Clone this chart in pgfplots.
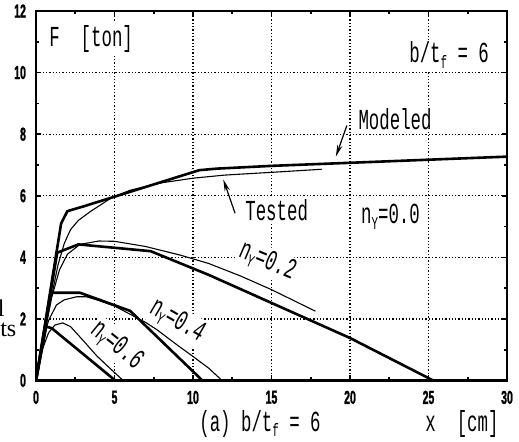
\documentclass[border=0pt]{standalone}
\usepackage{fontspec}
\usepackage{pgfplots}
\pgfplotsset{compat=1.18}
\usetikzlibrary{arrows.meta}
\newfontfamily\labfont[FakeStretch=0.6]{Liberation Mono}
\newfontfamily\tickfont[FakeStretch=0.56, FakeBold=1.2]{Liberation Sans}
\newfontfamily\fragfont{Liberation Serif}
\newcommand{\lab}{\labfont\fontsize{14.5}{16}\selectfont}
\newcommand{\sub}[1]{\raisebox{-0.35ex}{\fontsize{9}{10}\selectfont #1}}
\tikzset{
    lbl/.style={font=\lab, fill=white, inner sep=1pt},
    thin/.style={black, line width=0.55pt},
    fat/.style={black, line width=1.3pt},
}

\begin{document}
\begin{tikzpicture}
\useasboundingbox (-18pt,-30.75pt) rectangle (241.5pt,190.25pt);
\begin{axis}[
    scale only axis, width=235.5pt, height=184.75pt,
    xmin=0, xmax=30, ymin=0, ymax=12,
    xtick={0,5,...,30}, ytick={0,2,...,12},
    minor x tick num=1, minor y tick num=1,
    tick align=inside,
    major tick length=2.5pt, minor tick length=1.5pt,
    every tick/.style={black, line width=0.8pt},
    axis line style={line width=1.2pt},
    grid=major,
    major grid style={black, line width=0.65pt, dash pattern=on 0.65pt off 1pt},
    tick label style={font=\tickfont\bfseries\fontsize{9.4}{10}\selectfont},
    /pgf/number format/assume math mode=true,
    xticklabel style={yshift=-1.6pt},
    yticklabel style={xshift=-1.5pt},
]
% labels first, so that they hide the grid but not the curves
\node[lbl, anchor=west] at (axis cs:0.7,11.1) {F\ \ [ton]};
\node[lbl, anchor=east] at (axis cs:29,10.57) {b/t\sub{f}\ =\ 6};
\node[lbl] at (axis cs:22.87,8.49) {Modeled};
\node[lbl] at (axis cs:15.33,5.54) {Tested};
\node[lbl] at (axis cs:22.58,5.32) {n\sub{Y}=0.0};
\node[lbl, rotate=-23] at (axis cs:14.74,3.86) {n\sub{Y}=0.2};
\node[lbl, rotate=-30] at (axis cs:9.0,1.92) {n\sub{Y}=0.4};
\node[lbl, rotate=-39] at (axis cs:5.14,1.13) {n\sub{Y}=0.6};

% tested (thin)
\addplot[thin] coordinates {
    (0,0) (0.5,1.45) (1.0,2.75) (1.4,3.75) (1.8,4.45) (2.2,4.9) (2.7,5.2)
    (3.5,5.5) (4.8,5.93) (6,6.18) (8,6.42) (10,6.57) (12,6.67) (15,6.76) (18.2,6.86)
};
\addplot[thin] coordinates {
    (0,0) (0.5,1.4) (1.0,2.7) (1.5,3.6) (2.0,4.1) (2.8,4.42) (4,4.53) (5,4.52)
    (7,4.35) (9.2,4.07) (11,3.8) (13,3.4) (15,2.95) (17.8,2.25)
};
\addplot[thin] coordinates {
    (0,0) (0.4,1.2) (0.8,1.95) (1.3,2.45) (1.8,2.62) (2.6,2.72) (3.2,2.72) (4,2.6)
    (5,2.42) (6,2.15) (7,1.88) (7.7,1.65) (9,1.15) (10,0.78) (11,0.4) (11.85,0)
};
\addplot[thin] coordinates {
    (0,0) (0.4,1.0) (0.8,1.55) (1.2,1.8) (1.7,1.87) (2.2,1.75) (3,1.3)
    (3.87,0.8) (4.7,0.4) (5.55,0)
};

% modeled (thick)
\addplot[fat] coordinates {
    (0,0) (1.6,5.1) (2.0,5.5) (3.0,5.65) (10.4,6.83) (11.5,6.88) (15,6.97) (20,7.07) (30,7.27)
};
\addplot[fat] coordinates {
    (0,0) (1.35,4.15) (2.7,4.42) (7.3,4.2) (11,3.43) (20,1.38) (25.3,0)
};
\addplot[fat] coordinates {
    (0,0) (0.95,2.85) (2.8,2.85) (6,2.26) (10.6,0)
};
\addplot[fat] coordinates {
    (0,0) (0.65,1.75) (1.0,1.7) (5.05,0)
};

% pointers
\draw[-{Stealth[length=6pt,width=2.6pt]}, line width=0.6pt]
    (axis cs:19.8,8.28) -- (axis cs:19.1,7.27);
\draw[-{Stealth[length=6pt,width=2.6pt]}, line width=0.6pt]
    (axis cs:12.68,5.43) -- (axis cs:11.93,6.53);
\end{axis}

\node[font=\lab, anchor=base] at (112pt,-25.5pt) {(a) b/t\sub{f}\ =\ 6};
\node[font=\lab, anchor=base] at (213pt,-25.5pt) {x\ \ [cm]};
% cut-off text at the left edge
\node[font=\fragfont\fontsize{12}{14}\selectfont, anchor=base east, inner sep=0pt] at (-9.65pt,21.75pt) {ts};
\node[font=\fragfont\fontsize{12}{14}\selectfont, anchor=base east, inner sep=0pt] at (-15.5pt,31.75pt) {l};
\end{tikzpicture}
\end{document}
